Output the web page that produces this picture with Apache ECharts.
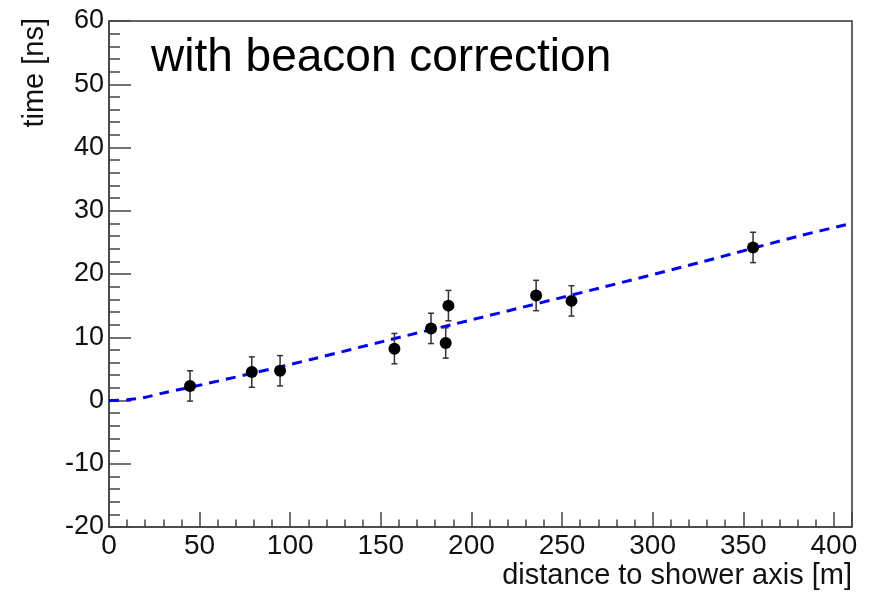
<!DOCTYPE html>
<html>
<head>
<meta charset="utf-8">
<script src="https://cdn.jsdelivr.net/npm/echarts@6/dist/echarts.min.js"></script>
<style>
html,body{margin:0;padding:0;background:#fff;}
#chart{width:871px;height:592px;}
</style>
</head>
<body>
<div id="chart"></div>
<script>
// Measured data points (distance [m], time [ns], error [ns])
var distance = [44.7, 78.8, 94.4, 157.5, 177.7, 185.8, 187.3, 235.7, 255.2, 355.4];
var time     = [2.3, 4.5, 4.7, 8.2, 11.4, 9.1, 15.0, 16.6, 15.75, 24.2];
var timeErr  = [2.4, 2.4, 2.4, 2.4, 2.4, 2.4, 2.4, 2.4, 2.4, 2.4];

// Fit curve
var fitX = [0, 10, 20, 30, 45, 79, 113, 152, 205, 271, 327, 382, 410];
var fitY = [0, 0.1, 0.5, 1.2, 2.1, 4.3, 6.6, 9.4, 13.1, 17.8, 21.9, 26.1, 28.0];

var xTicks = [0, 50, 100, 150, 200, 250, 300, 350, 400];
var yTicks = [-20, -10, 0, 10, 20, 30, 40, 50, 60];

var titleText = 'with beacon correction';
var xTitle = 'distance to shower axis [m]';
var yTitle = 'time [ns]';

var points = distance.map(function (d, i) { return [d, time[i]]; });
var errData = distance.map(function (d, i) { return [d, time[i] - timeErr[i], time[i] + timeErr[i]]; });
var fitData = fitX.map(function (x, i) { return [x, fitY[i]]; });

var chart = echarts.init(document.getElementById('chart'), null, {renderer: 'canvas'});
var FONT = 'Liberation Sans, Arial, sans-serif';
var axisColor = '#444';

chart.setOption({
  backgroundColor: '#ffffff',
  animation: false,
  grid: {
    left: 109, right: 19, top: 21, bottom: 65,
    show: true, borderColor: '#333', borderWidth: 1.5,
    outerBoundsMode: 'none', containLabel: false
  },
  xAxis: {
    type: 'value', min: 0, max: 410, interval: 50,
    axisLine: {show: true, onZero: false, lineStyle: {color: axisColor, width: 1.5}},
    axisTick: {show: true, inside: true, length: 15, lineStyle: {color: axisColor, width: 1.5}},
    minorTick: {show: true, splitNumber: 5, length: 7.5, lineStyle: {color: axisColor, width: 1.5}},
    splitLine: {show: false},
    axisLabel: {
      margin: 5, fontSize: 28, color: '#111', fontFamily: FONT, showMaxLabel: false, hideOverlap: false,
      formatter: function (v) { return xTicks.indexOf(v) >= 0 ? String(v) : ''; }
    }
  },
  yAxis: {
    type: 'value', min: -20, max: 60, interval: 10,
    axisLine: {show: true, onZero: false, lineStyle: {color: axisColor, width: 1.5}},
    axisTick: {show: true, inside: true, length: 22, lineStyle: {color: axisColor, width: 1.5}},
    minorTick: {show: true, splitNumber: 5, length: 11, lineStyle: {color: axisColor, width: 1.5}},
    splitLine: {show: false},
    axisLabel: {
      margin: 5, fontSize: 27, color: '#111', fontFamily: FONT, hideOverlap: false,
      formatter: function (v) { return yTicks.indexOf(v) >= 0 ? String(v) : ''; }
    }
  },
  graphic: [
    {type: 'text', left: 151, top: 35, style: {text: titleText, font: '46px ' + FONT, fill: '#000'}},
    {type: 'text', x: 852, y: 576, style: {text: xTitle, font: '29px ' + FONT, fill: '#111', align: 'right', verticalAlign: 'middle'}},
    {type: 'text', x: 35, y: 18, rotation: Math.PI / 2, style: {text: yTitle, font: '29px ' + FONT, fill: '#111', align: 'right', verticalAlign: 'middle'}}
  ],
  series: [
    {
      type: 'line', data: fitData, smooth: 0.3, symbol: 'none', z: 3,
      lineStyle: {color: '#0000ff', width: 3, type: [10, 7]}
    },
    {
      type: 'custom', data: errData, z: 4,
      renderItem: function (params, api) {
        var x = api.value(0);
        var lo = api.coord([x, api.value(1)]);
        var hi = api.coord([x, api.value(2)]);
        var cw = 3;
        var st = {stroke: '#333', lineWidth: 1.5};
        return {
          type: 'group',
          children: [
            {type: 'line', shape: {x1: lo[0], y1: lo[1], x2: hi[0], y2: hi[1]}, style: st},
            {type: 'line', shape: {x1: lo[0] - cw, y1: lo[1], x2: lo[0] + cw, y2: lo[1]}, style: st},
            {type: 'line', shape: {x1: hi[0] - cw, y1: hi[1], x2: hi[0] + cw, y2: hi[1]}, style: st}
          ]
        };
      }
    },
    {
      type: 'scatter', data: points, symbol: 'circle', symbolSize: 12, z: 5,
      itemStyle: {color: '#000', opacity: 1}
    }
  ]
});
</script>
</body>
</html>
